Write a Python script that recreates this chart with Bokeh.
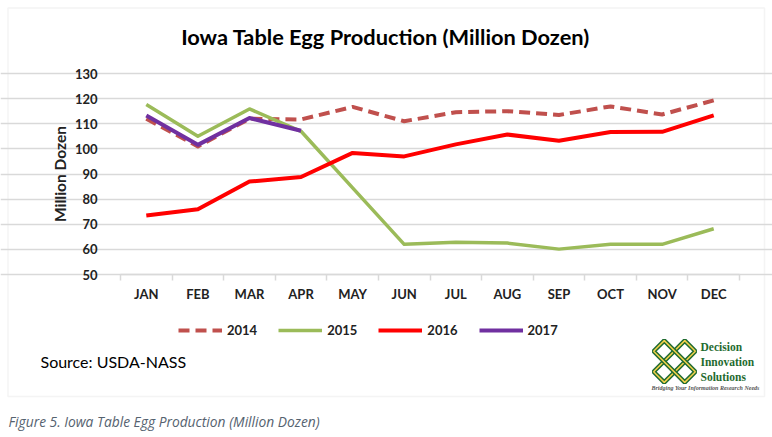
import math
from bokeh.plotting import figure
from bokeh.models import (Range1d, LinearAxis, FixedTicker, Grid,
                          Label, BoxAnnotation, Legend, LegendItem)
from bokeh.embed import file_html
from bokeh.resources import INLINE

months = ["JAN", "FEB", "MAR", "APR", "MAY", "JUN", "JUL", "AUG", "SEP", "OCT", "NOV", "DEC"]
y2014 = [112.0, 101.0, 112.0, 111.7, 116.7, 111.0, 114.6, 115.0, 113.5, 116.9, 113.7, 119.3]
y2015 = [117.7, 105.0, 115.9, 107.0, 84.5, 62.0, 62.8, 62.5, 60.1, 62.0, 62.0, 68.2]
y2016 = [73.5, 76.0, 87.0, 88.8, 98.4, 97.0, 101.8, 105.7, 103.2, 106.7, 106.8, 113.3]
y2017 = [113.3, 101.6, 112.3, 107.2]
y_ticks = [50, 60, 70, 80, 90, 100, 110, 120, 130]

W, H = 772, 437
FL, FR, FT, FB = 120, 739, 73, 274  # plot-area edges in canvas px
YMIN, YMAX = 50, 130
N = len(months)
BW = (FR - FL) / N                 # px per category
PY = (FB - FT) / (YMAX - YMIN)     # px per y unit

def dx(px):
    return (px - FL) / BW

def dy(py):
    return YMIN + (FB - py) / PY

xpos = [i + 0.5 for i in range(N)]

p = figure(width=W, height=H, output_backend="svg", toolbar_location=None,
           x_range=Range1d(dx(0), dx(W)), y_range=Range1d(dy(H), dy(0)),
           x_axis_location=None, y_axis_location=None, min_border=0)
p.title.visible = False
p.outline_line_color = None
p.background_fill_color = "white"
p.border_fill_color = "white"
p.xgrid.visible = False
p.ygrid.visible = False

FONT = "Lato"
TXT = "#222222"

# outer chart border
p.add_layout(BoxAnnotation(left=dx(7.5), right=dx(764), top=dy(7.5), bottom=dy(396),
                           fill_alpha=0, line_color="#d9d9d9", line_width=1.5, level="underlay"))

grid = Grid(dimension=1, ticker=FixedTicker(ticks=y_ticks), bounds=(0, N),
            grid_line_color="#d9d9d9", grid_line_width=1.5)
p.add_layout(grid, "center")

# y axis
yax = LinearAxis(ticker=FixedTicker(ticks=y_ticks), axis_label="Million Dozen",
                 fixed_location=0, bounds=(YMIN, YMAX))
yax.axis_line_color = None
yax.major_tick_line_color = None
yax.minor_tick_line_color = None
yax.major_label_text_font = FONT
yax.major_label_text_font_style = "bold"
yax.major_label_text_font_size = "13px"
yax.major_label_text_color = TXT
yax.major_label_standoff = 17
yax.axis_label_text_font = FONT
yax.axis_label_text_font_style = "bold"
yax.axis_label_text_font_size = "15.5px"
yax.axis_label_text_color = TXT
yax.axis_label_standoff = 3
p.add_layout(yax, "left")

# x tick axis (ticks on category boundaries)
tax = LinearAxis(ticker=FixedTicker(ticks=list(range(N + 1))), fixed_location=YMIN, bounds=(0, N))
tax.axis_line_color = "#d9d9d9"
tax.axis_line_width = 1.5
tax.major_tick_line_color = "#d9d9d9"
tax.major_tick_line_width = 1.5
tax.major_tick_in = 0
tax.major_tick_out = 6
tax.minor_tick_line_color = None
tax.major_label_text_font_size = "0px"
tax.major_label_text_alpha = 0
p.add_layout(tax, "below")

# x label axis (month names at category centres)
xax = LinearAxis(ticker=FixedTicker(ticks=xpos), fixed_location=YMIN, bounds=(0, N),
                 major_label_overrides={x: m for x, m in zip(xpos, months)})
xax.axis_line_color = None
xax.major_tick_line_color = None
xax.minor_tick_line_color = None
xax.major_label_text_font = FONT
xax.major_label_text_font_style = "bold"
xax.major_label_text_font_size = "13px"
xax.major_label_text_color = TXT
xax.major_label_standoff = 5
p.add_layout(xax, "below")

r14 = p.line(xpos, y2014, line_color="#C0504D", line_width=4, line_dash="11 6", line_join="round")
r15 = p.line(xpos, y2015, line_color="#9BBB59", line_width=3.5, line_join="round")
r16 = p.line(xpos, y2016, line_color="#FF0000", line_width=4, line_join="round")
r17 = p.line(xpos[:len(y2017)], y2017, line_color="#7030A0", line_width=4, line_join="round")

legend = Legend(items=[LegendItem(label="2014", renderers=[r14]),
                       LegendItem(label="2015", renderers=[r15]),
                       LegendItem(label="2016", renderers=[r16]),
                       LegendItem(label="2017", renderers=[r17])],
                orientation="horizontal", location=(178, H - 338),
                glyph_width=44, glyph_height=16, label_height=16, label_standoff=5, spacing=21,
                padding=0, margin=0, border_line_color=None, background_fill_alpha=0,
                label_text_font=FONT, label_text_font_style="bold", label_text_font_size="13px",
                label_text_color=TXT)
p.add_layout(legend, "center")

p.add_layout(Label(x=dx(385), y=dy(36), text="Iowa Table Egg Production (Million Dozen)",
                   text_align="center", text_baseline="alphabetic", text_font=FONT, text_font_style="bold",
                   text_font_size="21.8px", text_color="#000000"))
p.add_layout(Label(x=dx(40), y=dy(361), text="Source: USDA-NASS",
                   text_align="left", text_baseline="alphabetic", text_font=FONT,
                   text_font_size="16px", text_color="#000000"))
p.add_layout(Label(x=dx(8), y=dy(421),
                   text="Figure 5. Iowa Table Egg Production (Million Dozen)",
                   text_align="left", text_baseline="alphabetic", text_font="Open Sans", text_font_style="italic",
                   text_font_size="13.8px", text_color="#55626f"))

# logo (decorative)
for ang in (math.pi / 4, -math.pi / 4):
    p.rect(x=[dx(674)], y=[dy(361)], width=[44], height=[15], angle=ang,
           width_units="screen", height_units="screen", fill_color=None,
           line_color="#1f6b30", line_width=4.5)
    p.rect(x=[dx(674)], y=[dy(361)], width=[44], height=[15], angle=ang,
           width_units="screen", height_units="screen", fill_color=None,
           line_color="#f2d04b", line_width=1.5)
for t, yb in [("Decision", 346), ("Innovation", 361), ("Solutions", 376)]:
    p.add_layout(Label(x=dx(700), y=dy(yb), text=t,
                       text_align="left", text_baseline="alphabetic", text_font="Liberation Serif",
                       text_font_style="bold", text_font_size="11.5px", text_color="#1f6b30"))
p.add_layout(Label(x=dx(651), y=dy(387),
                   text="Bridging Your Information Research Needs",
                   text_align="left", text_baseline="alphabetic", text_font="Liberation Serif",
                   text_font_style="bold italic", text_font_size="6px", text_color="#555555"))

open("out.html", "w").write(file_html(p, INLINE))
